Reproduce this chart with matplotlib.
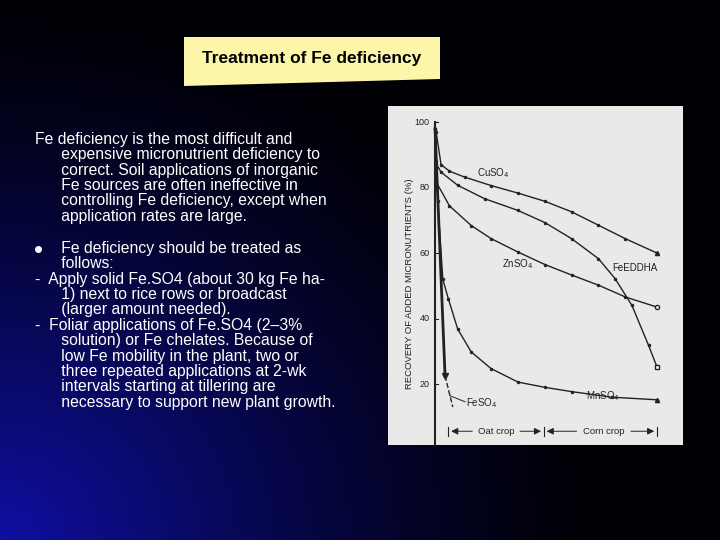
import matplotlib.pyplot as plt
import numpy as np
from matplotlib.patches import Polygon

plt.rcParams['font.family'] = ['Liberation Sans', 'DejaVu Sans']

# recovery curves (x in arbitrary time units, 0..10; y in %)
cu_x = [0.0, 0.05, 0.27, 0.65, 1.33, 2.53, 3.74, 4.95, 6.15, 7.36, 8.57, 10.0]
cu_y = [98, 97, 87, 85, 83.2, 80.6, 78.3, 75.8, 72.6, 68.5, 64.4, 60]
fe_edta_x = [0.05, 0.27, 1.02, 2.23, 3.74, 4.95, 6.15, 7.36, 8.11, 8.87, 9.62, 10.0]
fe_edta_y = [87.3, 84.7, 80.7, 76.6, 73, 69.3, 64.4, 58.3, 52.2, 44, 31.8, 25.2]
zn_x = [0.02, 0.05, 0.65, 1.63, 2.53, 3.74, 4.95, 6.15, 7.36, 8.57, 10.0]
zn_y = [88, 81.7, 74.4, 68.4, 64.4, 60.3, 56.5, 53.3, 50.2, 46.6, 43.5]
mn_x = [0.0, 0.12, 0.35, 0.6, 1.02, 1.63, 2.53, 3.74, 4.95, 6.15, 7.96, 10.0]
mn_y = [98, 76, 52, 46, 36.8, 29.8, 24.7, 20.6, 19, 17.7, 16, 15.2]
feso4_x = [0.0, 0.2, 0.45]
feso4_y = [98, 64, 22.5]
feso4_dash_x = [0.45, 0.8]
feso4_dash_y = [22.5, 13]

body_text = ("Fe deficiency is the most difficult and\n"
             "      expensive micronutrient deficiency to\n"
             "      correct. Soil applications of inorganic\n"
             "      Fe sources are often ineffective in\n"
             "      controlling Fe deficiency, except when\n"
             "      application rates are large.")
bullet_text = ("      Fe deficiency should be treated as\n"
               "      follows:\n"
               "-  Apply solid Fe.SO4 (about 30 kg Fe ha-\n"
               "      1) next to rice rows or broadcast\n"
               "      (larger amount needed).\n"
               "-  Foliar applications of Fe.SO4 (2\u20133%\n"
               "      solution) or Fe chelates. Because of\n"
               "      low Fe mobility in the plant, two or\n"
               "      three repeated applications at 2-wk\n"
               "      intervals starting at tillering are\n"
               "      necessary to support new plant growth.")

fig = plt.figure(figsize=(7.2, 5.4), dpi=100)

# slide background: black with blue glow bottom-left
bg = fig.add_axes([0, 0, 1, 1])
yy, xx = np.mgrid[0:540, 0:720]
d = np.sqrt((xx / 720.0) ** 2 * 1.3 + ((540 - yy) / 540.0) ** 2 * 0.9)
t = np.clip(1 - d / 0.95, 0, 1) ** 1.3
img = np.zeros((540, 720, 3))
img[..., 0] = 0.06 * t
img[..., 1] = 0.06 * t
img[..., 2] = 0.02 + 0.62 * t
bg.imshow(img, extent=[0, 720, 540, 0], aspect='auto')
bg.set_xlim(0, 720)
bg.set_ylim(540, 0)
bg.axis('off')

bg.add_patch(Polygon([[184, 37], [440, 37], [440, 79], [184, 86]], closed=True,
                     facecolor='#fdf6a8', edgecolor='none'))
bg.text(312, 59, "Treatment of Fe deficiency", ha='center', va='center',
        fontsize=12.5, fontweight='bold', color='black')
bg.text(35, 132, body_text, ha='left', va='top', fontsize=11.3, color='white',
        linespacing=1.03)
bg.text(35, 241, bullet_text, ha='left', va='top', fontsize=11.3, color='white',
        linespacing=1.03)
bg.plot([38], [249], 'o', color='white', markersize=4)

# scanned chart panel
ax = fig.add_axes([388 / 720, 1 - 445 / 540, 295 / 720, 339 / 540])
ax.set_facecolor('#e9e9e7')
ax.set_xlim(-2.12, 11.17)
ax.set_ylim(1.4, 104.9)
for s in ax.spines.values():
    s.set_visible(False)
ax.set_xticks([])
ax.set_yticks([])

lc = '#222222'
ax.plot([0, 0], [1.4, 100], color=lc, lw=1.5)
for v in [20, 40, 60, 80, 100]:
    ax.text(-0.25, v, str(v), ha='right', va='center', fontsize=6.5, color=lc)
    ax.plot([0, 0.12], [v, v], color=lc, lw=0.8)
ax.text(-1.15, 50.5, "RECOVERY OF ADDED MICRONUTRIENTS (%)", rotation=90,
        ha='center', va='center', fontsize=6.8, color=lc)

for xs, ys in [(cu_x, cu_y), (fe_edta_x, fe_edta_y), (zn_x, zn_y), (mn_x, mn_y)]:
    ax.plot(xs, ys, color=lc, lw=1, marker='.', markersize=3)
ax.plot(feso4_x, feso4_y, color=lc, lw=2)
ax.plot(feso4_dash_x, feso4_dash_y, color=lc, lw=1, ls='--')
ax.plot([0.45], [22.5], 'v', color=lc, markersize=4)
ax.plot([10.0], [cu_y[-1]], '^', color=lc, markersize=3)
ax.plot([10.0], [fe_edta_y[-1]], 's', mfc='white', mec=lc, markersize=3)
ax.plot([10.0], [zn_y[-1]], 'o', mfc='white', mec=lc, markersize=3)
ax.plot([10.0], [mn_y[-1]], '^', color=lc, markersize=3)

ax.text(1.9, 84.5, "CuSO$_4$", fontsize=7, color=lc, va='center')
ax.text(8.0, 55.5, "FeEDDHA", fontsize=7, color=lc, va='center')
ax.text(3.0, 56.5, "ZnSO$_4$", fontsize=7, color=lc, va='center')
ax.text(6.8, 16.2, "MnSO$_4$", fontsize=7, color=lc, va='center')
ax.text(1.4, 14.3, "FeSO$_4$", fontsize=7, color=lc, va='center')
ax.plot([0.65, 1.35], [16.5, 14.6], color=lc, lw=0.7)

# crop period arrows
ax.annotate('', xy=(0.6, 5.6), xytext=(1.8, 5.6),
            arrowprops=dict(arrowstyle='-|>', color=lc, lw=0.7))
ax.annotate('', xy=(4.9, 5.6), xytext=(3.7, 5.6),
            arrowprops=dict(arrowstyle='-|>', color=lc, lw=0.7))
ax.text(2.75, 5.6, "Oat crop", fontsize=6.8, ha='center', va='center', color=lc)
ax.annotate('', xy=(4.9, 5.6), xytext=(6.5, 5.6),
            arrowprops=dict(arrowstyle='-|>', color=lc, lw=0.7))
ax.annotate('', xy=(10.0, 5.6), xytext=(8.7, 5.6),
            arrowprops=dict(arrowstyle='-|>', color=lc, lw=0.7))
ax.text(7.6, 5.6, "Corn crop", fontsize=6.8, ha='center', va='center', color=lc)
for xv in [0.6, 4.9, 10.0]:
    ax.plot([xv, xv], [4.3, 6.9], color=lc, lw=0.8)

fig.savefig('out.png', dpi=100)
